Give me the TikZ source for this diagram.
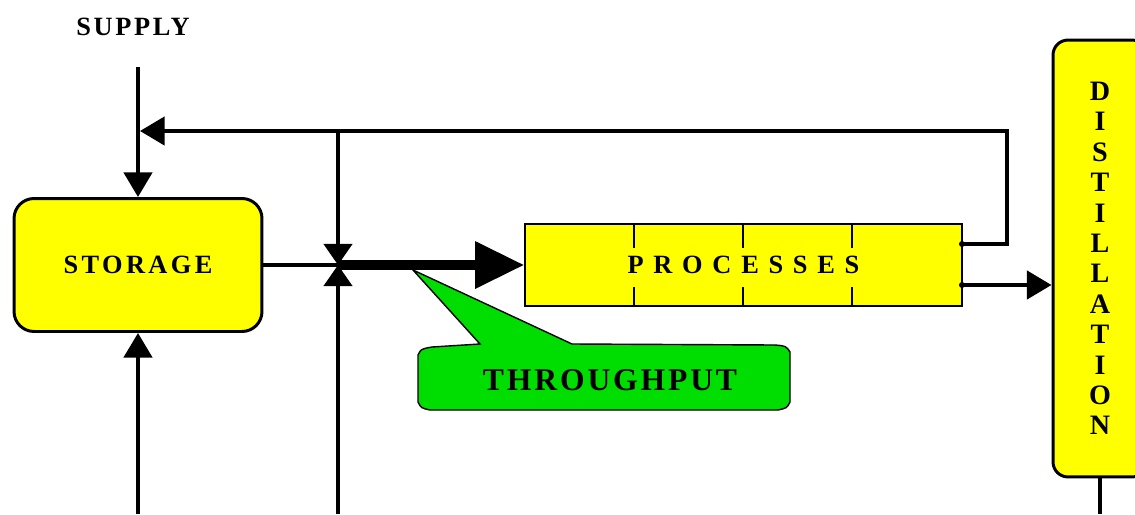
\documentclass[tikz,border=0pt]{standalone}
\usepackage{fontspec}
\setmainfont{Liberation Serif}
\usepackage{tikz}
\usetikzlibrary{arrows.meta}
\definecolor{boxyellow}{RGB}{255,255,0}
\definecolor{callgreen}{RGB}{0,221,0}
\tikzset{
  flow/.style={line width=2.3pt},
  flowarrow/.style={flow,-{Triangle[length=14pt,width=16pt]}},
  unitbox/.style={draw,line width=1.7pt,fill=boxyellow,rounded corners=0.4cm,
    font=\fontsize{15}{18}\selectfont\bfseries},
  label/.style={font=\fontsize{15}{18}\selectfont\bfseries}
}
\begin{document}
\begin{tikzpicture}[x=0.02cm,y=-0.02cm]
\useasboundingbox (0,0) rectangle (1135,514);
\node[label] (supply) at (133,27) {\addfontfeature{LetterSpace=10}SUPPLY};
\node[unitbox,minimum width=4.96cm,minimum height=2.66cm] (storage) at (138,265)
  {\addfontfeature{LetterSpace=13}STORAGE};
\node[draw,line width=0.8pt,fill=boxyellow,minimum width=8.74cm,minimum height=1.64cm,
  font=\fontsize{15}{18}\selectfont\bfseries] (processes) at (743.5,265)
  {\addfontfeature{LetterSpace=12}P R O C E S S E S};
\foreach \x in {634,743,852} {
  \draw[line width=0.8pt] (\x,224) -- (\x,248);
  \draw[line width=0.8pt] (\x,287) -- (\x,306);
}
\node[unitbox,rounded corners=0.3cm,minimum width=1.88cm,minimum height=8.74cm,align=center,
  font=\fontsize{16}{17.3}\selectfont\bfseries] (distillation) at (1100,258.5)
  {D\\I\\S\\T\\I\\L\\L\\A\\T\\I\\O\\N};
\coordinate (supplytop) at (138,67);
\coordinate (storebot) at (138,514);
\coordinate (mixtop) at (338,131);
\coordinate (junction) at (338,265);
\coordinate (mixbot) at (338,514);
\coordinate (pout1) at (962,244);
\coordinate (pout2) at (962,285);
\coordinate (fbcorner) at (1007,244);
\coordinate (fbtop) at (1007,131);
\coordinate (fbend) at (140,131);
\coordinate (distbot) at (1100,514);
% flows into storage
\draw[flowarrow] (supplytop) -- (storage.north);
\draw[flowarrow] (storebot) -- (storage.south);
\draw[flowarrow] (pout1) -- (fbcorner) -- (fbtop) -- (fbend);
% mixing point
\draw[flowarrow,-{Triangle[length=12pt,width=16pt]}] (mixtop) -- (junction);
\draw[flowarrow,-{Triangle[length=12pt,width=16pt]}] (mixbot) -- (junction);
\draw[flow] (storage.east) -- (junction);
% throughput callout
\draw[line width=0.8pt,fill=callgreen] (413,270) -- (572,344) -- (775,345)
  .. controls (786,346) .. (790,352) -- (790,402) .. controls (787,408) .. (778,410)
  -- (430,410) .. controls (421,408) .. (418,402) -- (418,355)
  .. controls (421,349) .. (432,347) -- (480,344) -- cycle;
\node[font=\fontsize{18}{20}\selectfont\bfseries] (throughput) at (610,380)
  {\addfontfeature{LetterSpace=9}THROUGHPUT};
\draw[line width=5.7pt,-{Triangle[length=28pt,width=25.5pt]}] (junction) -- (processes.west);
% outputs
\draw[flowarrow] (pout2) -- (distillation.west |- pout2);
\fill (pout1) circle (3);
\fill (pout2) circle (3);
\draw[flow] (distillation.south) -- (distbot);
\end{tikzpicture}
\end{document}
